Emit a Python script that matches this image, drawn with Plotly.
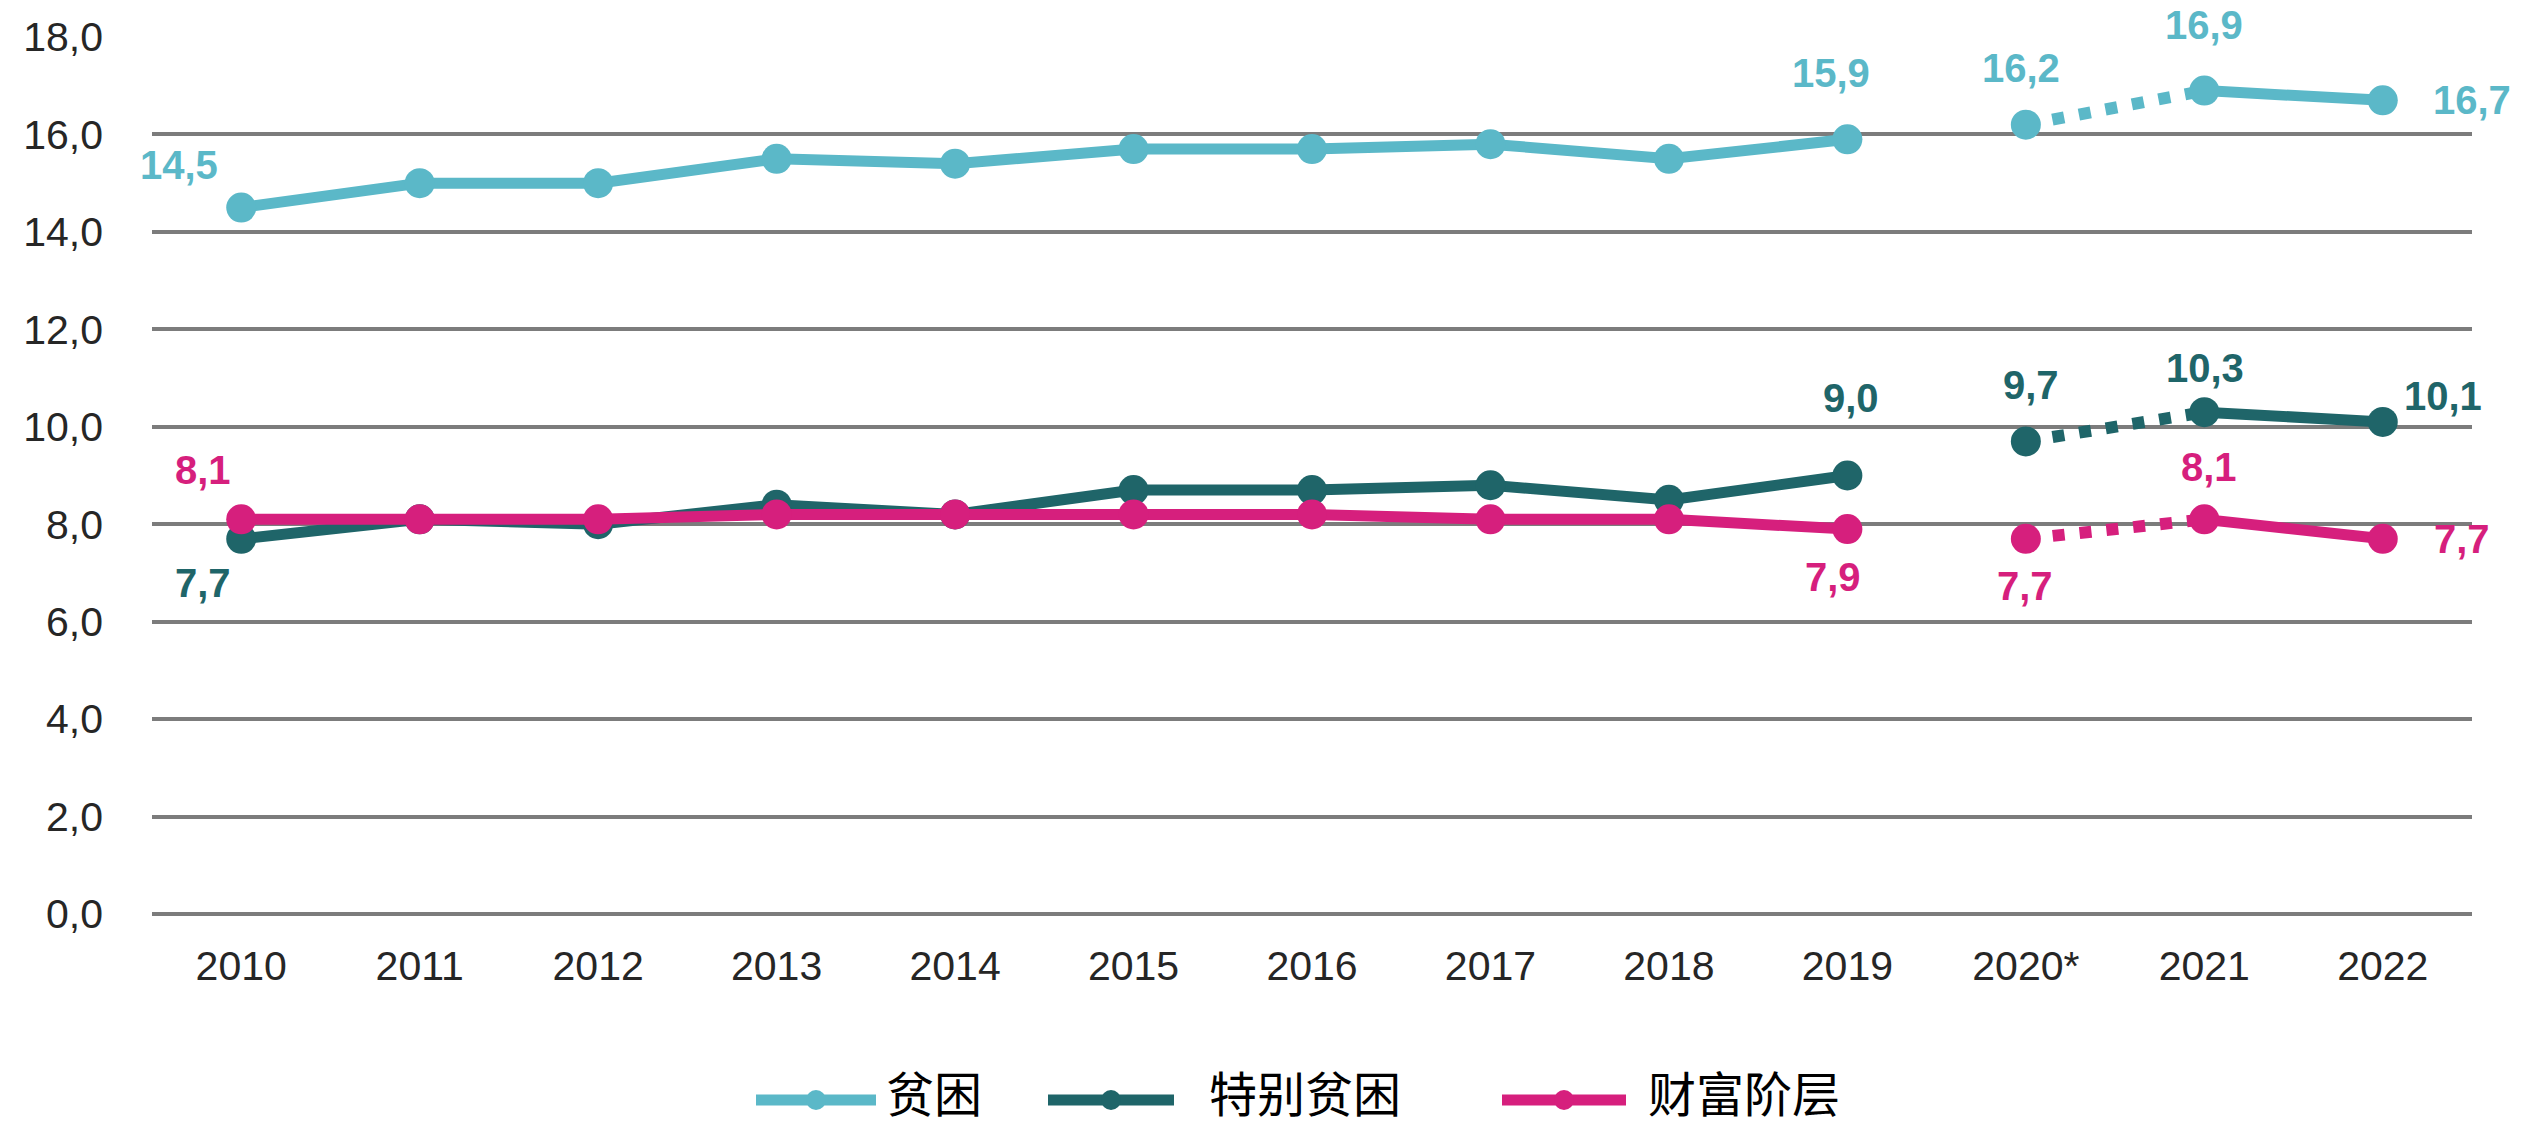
import plotly.graph_objects as go

# ---------------- data ----------------
years = ["2010", "2011", "2012", "2013", "2014", "2015", "2016",
         "2017", "2018", "2019", "2020*", "2021", "2022"]
poverty = [14.5, 15.0, 15.0, 15.5, 15.4, 15.7, 15.7, 15.8, 15.5, 15.9, 16.2, 16.9, 16.7]
extreme_poverty = [7.7, 8.1, 8.0, 8.4, 8.2, 8.7, 8.7, 8.8, 8.5, 9.0, 9.7, 10.3, 10.1]
wealthy = [8.1, 8.1, 8.1, 8.2, 8.2, 8.2, 8.2, 8.1, 8.1, 7.9, 7.7, 8.1, 7.7]
series_names = ["贫困", "特别贫困", "财富阶层"]
y_ticks = [0, 2, 4, 6, 8, 10, 12, 14, 16, 18]

# ---------------- style ----------------
colors = ["#5bb8c8", "#1f6569", "#d61f7d"]
W, H = 2521, 1128
ML, MR, MT, MB = 152, 49, 37, 214
PW, PH = W - ML - MR, H - MT - MB
TICK_FONT = "Liberation Sans Narrow, Arial Narrow, Liberation Sans, Arial"
CJK_FONT = "Noto Sans CJK SC, Noto Sans"

# which label is shown and its pixel offset (dx, dy; dy positive = up)
label_offsets = [
    {0: (-62, 43), 9: (-16, 66), 10: (-5, 57), 11: (0, 66), 12: (89, 0)},
    {0: (-38, -44), 9: (4, 78), 10: (5, 56), 11: (1, 44), 12: (60, 26)},
    {0: (-38, 49), 9: (-14, -48), 10: (-1, -47), 11: (5, 52), 12: (79, 0)},
]

fig = go.Figure()
gap_idx = years.index("2020*")
all_series = [poverty, extreme_poverty, wealthy]

for s, (vals, name, col) in enumerate(zip(all_series, series_names, colors)):
    # dotted connector 2020* -> 2021
    fig.add_trace(go.Scatter(
        x=years[gap_idx:gap_idx + 2], y=vals[gap_idx:gap_idx + 2],
        mode="lines",
        line=dict(color=col, width=12, dash="12px,15px"),
        showlegend=False, hoverinfo="skip",
    ))
    # solid line with gap at 2020*
    solid = [None if i == gap_idx else v for i, v in enumerate(vals)]
    fig.add_trace(go.Scatter(
        x=years, y=solid, mode="lines", connectgaps=False,
        line=dict(color=col, width=11),
        showlegend=False, hoverinfo="skip",
    ))
    # markers at every point
    fig.add_trace(go.Scatter(
        x=years, y=vals, name=name, mode="markers",
        marker=dict(color=col, size=30, line=dict(width=0)),
        showlegend=False,
    ))
    for i, (dx, dy) in label_offsets[s].items():
        fig.add_annotation(
            x=i, y=vals[i], xref="x", yref="y",
            text=f"{vals[i]:.1f}".replace(".", ","),
            showarrow=False, xshift=dx, yshift=dy,
            font=dict(family=TICK_FONT, size=40, color=col, weight="bold"),
        )


def px_x(p):
    return (p - ML) / PW


def px_y(p):
    return (H - MB - p) / PH


# custom legend
legend_items = [
    (756, 876, 816, 884),
    (1048, 1174, 1111, 1207),
    (1502, 1626, 1564, 1646),
]
LEG_Y = 1100
for (x0, x1, xc, xt), name, col in zip(legend_items, series_names, colors):
    fig.add_shape(type="line", xref="paper", yref="paper",
                  x0=px_x(x0), x1=px_x(x1), y0=px_y(LEG_Y), y1=px_y(LEG_Y),
                  line=dict(color=col, width=11))
    fig.add_shape(type="circle", xref="paper", yref="paper",
                  x0=px_x(xc - 10), x1=px_x(xc + 10),
                  y0=px_y(LEG_Y + 10), y1=px_y(LEG_Y - 10),
                  line=dict(width=0), fillcolor=col)
    fig.add_annotation(x=px_x(xt), y=px_y(1091), xref="paper", yref="paper",
                       text=name, showarrow=False, xanchor="left", yanchor="middle",
                       font=dict(family=CJK_FONT, size=48, color="#000000"))

fig.update_xaxes(
    type="category", categoryorder="array", categoryarray=years,
    range=[-0.5, len(years) - 0.5], autorange=False,
    showgrid=False, zeroline=False, showline=False, ticks="",
    tickfont=dict(family=TICK_FONT, size=41, color="#262626"),
    ticklabelstandoff=24,
)
fig.update_yaxes(
    range=[0, 18], autorange=False, tickvals=y_ticks, tickformat=".1f",
    showgrid=True, gridcolor="#7c7c7c", gridwidth=3.5,
    zeroline=True, zerolinecolor="#7c7c7c", zerolinewidth=3.5,
    showline=False, ticks="",
    tickfont=dict(family=TICK_FONT, size=41, color="#262626"),
    ticklabelstandoff=48,
)
fig.update_layout(
    width=W, height=H, autosize=False,
    margin=dict(l=ML, r=MR, t=MT, b=MB, pad=0),
    separators=", ",
    paper_bgcolor="white", plot_bgcolor="white",
    showlegend=False,
)

fig.write_html(
    "out.html",
    config={"displayModeBar": False},
    post_script="document.body.style.margin='0';document.body.style.overflow='hidden';",
)
